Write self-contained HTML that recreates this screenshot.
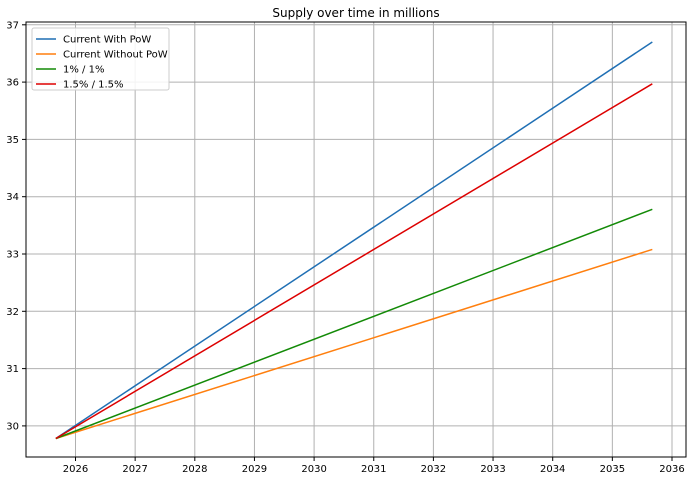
<!DOCTYPE html>
<html><head><meta charset="utf-8"><style>
body{margin:0;background:#fff;font-family:"Liberation Sans","DejaVu Sans",sans-serif;}
svg text{font-family:"DejaVu Sans","Liberation Sans",sans-serif;font-size:10px;fill:#000}
</style></head><body>
<svg id="chart" width="690" height="481" xmlns="http://www.w3.org/2000/svg">
<text x="356" y="17" text-anchor="middle" style="font-size:12px">Supply over time in millions</text>
<g id="grid"></g><g id="axes"></g><g id="series"></g>
<rect x="26" y="22" width="660" height="435" fill="none" stroke="#000" stroke-width="1"/>
<g>
<rect x="32" y="28" width="137" height="62" rx="2" fill="#fff" fill-opacity="0.85" stroke="#ccc"/>
<g id="legend-items"></g>
</g>
</svg>
<script>
const xTicks=[2026,2027,2028,2029,2030,2031,2032,2033,2034,2035,2036];
const yTicks=[30,31,32,33,34,35,36,37];
const years=[2025.67,2035.67];
const seriesNames=["Current With PoW","Current Without PoW","1% / 1%","1.5% / 1.5%"];
const seriesColors=["#1f6fb4","#ff7f0e","#138a07","#dd0000"];
const withPow=[29.78,36.70];
const withoutPow=[29.78,33.08];
const onePct=[29.78,33.78];
const onePointFive=[29.78,35.97];
const allSeries=[withPow,withoutPow,onePct,onePointFive];
const NS="http://www.w3.org/2000/svg";
const X=v=>75.5+(v-2026)*59.65;
const Y=v=>425.9-(v-30)*57.3;
function mk(t,a,p){const e=document.createElementNS(NS,t);for(const k in a)e.setAttribute(k,a[k]);p.appendChild(e);return e;}
const grid=document.getElementById('grid'),axes=document.getElementById('axes'),ser=document.getElementById('series'),leg=document.getElementById('legend-items');
xTicks.forEach(t=>{const x=X(t);
 const g=mk('line',{x1:x,x2:x,y1:22,y2:457,stroke:'#b0b0b0','stroke-width':1},grid);
 
 
 mk('line',{x1:x,x2:x,y1:457,y2:461,stroke:'#000'},axes);
 const tx=mk('text',{x:x,y:472,'text-anchor':'middle'},axes);tx.textContent=t;
 
 
});
yTicks.forEach(t=>{const y=Y(t);
 const g=mk('line',{x1:26,x2:686,y1:y,y2:y,stroke:'#b0b0b0','stroke-width':1},grid);
 
 
 mk('line',{x1:22,x2:26,y1:y,y2:y,stroke:'#000'},axes);
 const tx=mk('text',{x:19,y:y+3.5,'text-anchor':'end'},axes);tx.textContent=t;
 
 
});
allSeries.forEach((s,i)=>{
 const pts=s.map((v,j)=>X(years[j])+','+Y(v)).join(' ');
 const p=mk('polyline',{points:pts,fill:'none',stroke:seriesColors[i],'stroke-width':1.5},ser);
 
 
 const y=39+i*15;
 mk('line',{x1:36,x2:56,y1:y,y2:y,stroke:seriesColors[i],'stroke-width':1.5},leg);
 const tx=mk('text',{x:63,y:y+3.5},leg);tx.textContent=seriesNames[i];
 
 
});
</script>
</body></html>
